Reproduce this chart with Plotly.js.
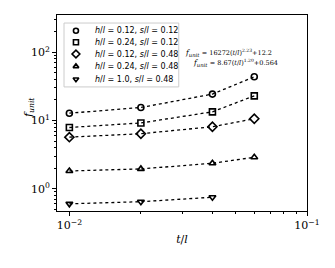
<!DOCTYPE html>
<html><head><meta charset="utf-8">
<script src="https://cdn.plot.ly/plotly-3.0.1.min.js"></script>
<style>html,body{margin:0;padding:0;background:#fff;}#plot{width:335px;height:268px;}</style>
</head><body><div id="plot"></div>
<script>
var tl = [0.01, 0.02, 0.04, 0.06];
var tlShort = [0.01, 0.02, 0.04];
var f_h012_s012 = [12.8, 15.5, 24.4, 43.7];
var f_h024_s012 = [7.9, 9.2, 13.4, 23.0];
var f_h012_s048 = [5.7, 6.4, 8.1, 10.6];
var f_h024_s048 = [1.82, 1.95, 2.36, 2.89];
var f_h10_s048 = [0.60, 0.645, 0.75];
var seriesNames = [
  "<i>h</i>/<i>l</i> = 0.12, <i>s</i>/<i>l</i> = 0.12",
  "<i>h</i>/<i>l</i> = 0.24, <i>s</i>/<i>l</i> = 0.12",
  "<i>h</i>/<i>l</i> = 0.12, <i>s</i>/<i>l</i> = 0.48",
  "<i>h</i>/<i>l</i> = 0.24, <i>s</i>/<i>l</i> = 0.48",
  "<i>h</i>/<i>l</i> = 1.0, <i>s</i>/<i>l</i> = 0.48"
];
var symbols = ["circle-open", "square-open", "diamond-open", "triangle-up-open", "triangle-down-open"];
var xTickVals = [0.01, 0.1];
var xTickText = ["10<sup>−2</sup>", "10<sup>−1</sup>"];
var yTickVals = [1, 10, 100];
var yTickText = ["10<sup>0</sup>", "10<sup>1</sup>", "10<sup>2</sup>"];
var fitLabels = [
  "<i>f<sub>unit</sub></i> <span style='font-size:6.5px'>= 16272(<i>t</i>/<i>l</i>)<sup>2.23</sup>+12.2</span>",
  "<i>f<sub>unit</sub></i> <span style='font-size:6.5px'>= 8.67(<i>t</i>/<i>l</i>)<sup>1.20</sup>+0.564</span>"
];
// annotation leader lines: [x, yLow, yHigh] in data units
var fitLeader1 = [0.0301, 20.1, 101];
var fitLeader2 = [0.0324, 0.70, 61];
// label anchor points [x, y] in data units
var fitLabelPos = [[0.0302, 97], [0.0326, 70]];

var xs = [tl, tl, tl, tl, tlShort];
var ys = [f_h012_s012, f_h024_s012, f_h012_s048, f_h024_s048, f_h10_s048];
var sizes = [6, 6, 7, 6, 6];
var traces = [];
for (var i = 0; i < 5; i++) {
  traces.push({
    x: xs[i], y: ys[i], name: seriesNames[i], type: 'scatter', mode: 'lines+markers', showlegend: false,
    line: {color: 'black', width: 1.3, dash: 'dot'},
    marker: {symbol: symbols[i], size: sizes[i], color: 'black', line: {color: 'black', width: 1.6}}
  });
}
// legend box (drawn by hand so the rows can be as compact as in the reference)
var legX0 = 0.028, legX1 = 0.487, legY0 = 0.633, legY1 = 0.959;
var legMarkX = 0.0758, legTextX = 0.1437;
var legRowsY = [0.920, 0.861, 0.801, 0.738, 0.672];
for (var j = 0; j < 5; j++) {
  traces.push({
    x: [legMarkX], y: [legRowsY[j]], xaxis: 'x2', yaxis: 'y2', type: 'scatter', mode: 'markers', showlegend: false,
    marker: {symbol: symbols[j], size: sizes[j] - 1, color: 'black', line: {color: 'black', width: 1.6}}
  });
}
var minorX = [], minorY = [];
[0.01].forEach(function(d){ for (var k = 2; k <= 9; k++) minorX.push(d*k); });
[0.1, 1, 10, 100].forEach(function(d){ for (var k = 2; k <= 9; k++) minorY.push(d*k); });

var L = Math.log10;
var annotations = [
  {xref: 'x', yref: 'y', x: L(fitLabelPos[0][0]), y: L(fitLabelPos[0][1]), xanchor: 'left', yanchor: 'middle', showarrow: false,
   text: fitLabels[0], font: {family: 'DejaVu Serif, serif', size: 7.5}},
  {xref: 'x', yref: 'y', x: L(fitLabelPos[1][0]), y: L(fitLabelPos[1][1]), xanchor: 'left', yanchor: 'middle', showarrow: false,
   text: fitLabels[1], font: {family: 'DejaVu Serif, serif', size: 7.5}},
  {xref: 'paper', yref: 'paper', x: -0.112, y: 0.525, xanchor: 'center', yanchor: 'middle', showarrow: false,
   textangle: -90, text: '<i>f<sub>unit</sub></i>', font: {family: 'DejaVu Serif, serif', size: 11}}
];
for (var k2 = 0; k2 < 5; k2++) {
  annotations.push({xref: 'paper', yref: 'paper', x: legTextX, y: legRowsY[k2], xanchor: 'left', yanchor: 'middle',
    showarrow: false, text: seriesNames[k2], font: {family: 'DejaVu Sans, sans-serif', size: 8}});
}
var layout = {
  width: 335, height: 268,
  margin: {l: 57, r: 27.5, t: 15, b: 57},
  paper_bgcolor: 'white', plot_bgcolor: 'white',
  font: {family: 'DejaVu Serif, serif', color: 'black', size: 11},
  showlegend: false,
  xaxis: {type: 'log', range: [-2.052, -1.0], tickmode: 'array', tickvals: xTickVals, ticktext: xTickText,
    ticks: 'outside', ticklen: 4, tickwidth: 1, tickcolor: 'black', showgrid: false, zeroline: false,
    showline: true, linecolor: 'black', linewidth: 1, mirror: true,
    tickfont: {family: 'DejaVu Serif, serif', size: 11},
    minor: {tickvals: minorX, ticks: 'outside', ticklen: 2, tickcolor: 'black', showgrid: false},
    title: {text: '<i>t</i>/<i>l</i>', font: {family: 'DejaVu Serif, serif', size: 11}, standoff: 4}},
  yaxis: {type: 'log', range: [-0.327, 2.547], tickmode: 'array', tickvals: yTickVals, ticktext: yTickText,
    ticks: 'outside', ticklen: 4, tickwidth: 1, tickcolor: 'black', showgrid: false, zeroline: false,
    showline: true, linecolor: 'black', linewidth: 1, mirror: true,
    tickfont: {family: 'DejaVu Serif, serif', size: 11},
    minor: {tickvals: minorY, ticks: 'outside', ticklen: 2, tickcolor: 'black', showgrid: false}},
  xaxis2: {overlaying: 'x', range: [0, 1], visible: false, fixedrange: true},
  yaxis2: {overlaying: 'y', range: [0, 1], visible: false, fixedrange: true},
  shapes: [
    {type: 'line', xref: 'x', yref: 'y', x0: L(fitLeader1[0]), x1: L(fitLeader1[0]), y0: L(fitLeader1[1]), y1: L(fitLeader1[2]), line: {color: '#333', width: 1}},
    {type: 'line', xref: 'x', yref: 'y', x0: L(fitLeader2[0]), x1: L(fitLeader2[0]), y0: L(fitLeader2[1]), y1: L(fitLeader2[2]), line: {color: '#333', width: 1}},
    {type: 'rect', xref: 'paper', yref: 'paper', x0: legX0, x1: legX1, y0: legY0, y1: legY1,
     fillcolor: 'white', line: {color: '#cccccc', width: 1}, layer: 'below'}
  ],
  annotations: annotations
};
Plotly.newPlot('plot', traces, layout, {displayModeBar: false, staticPlot: true});
</script></body></html>
